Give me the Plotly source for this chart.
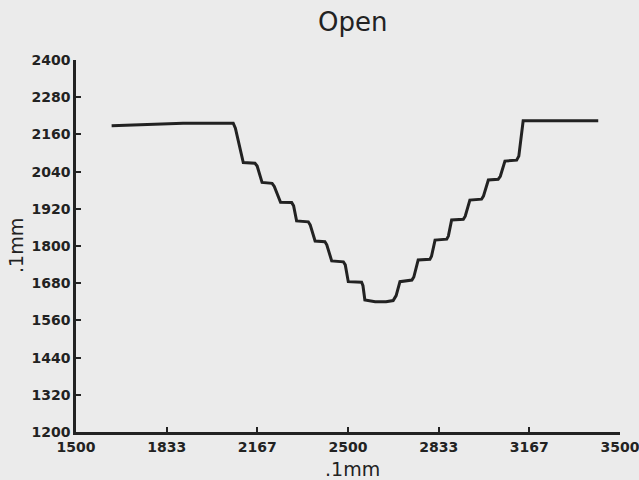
import plotly.graph_objects as go

# Profile data (.1mm units)
x_vals = [1631, 1894, 2078, 2086, 2115, 2158, 2166, 2184, 2221, 2229, 2252, 2293, 2300,
          2311, 2354, 2361, 2379, 2415, 2422, 2440, 2483, 2490, 2501, 2550, 2555, 2562,
          2600, 2640, 2666, 2677, 2691, 2735, 2742, 2758, 2801, 2807, 2820, 2863, 2869,
          2881, 2924, 2931, 2948, 2991, 2998, 3016, 3052, 3060, 3077, 3120, 3128, 3144,
          3420]
y_vals = [2188, 2196, 2196, 2180, 2069, 2067, 2058, 2005, 2002, 1992, 1941, 1940, 1930,
          1881, 1878, 1868, 1816, 1814, 1804, 1752, 1749, 1739, 1685, 1683, 1672, 1626,
          1620, 1620, 1624, 1640, 1685, 1690, 1700, 1755, 1757, 1767, 1819, 1822, 1832,
          1884, 1886, 1896, 1948, 1951, 1961, 2013, 2015, 2025, 2074, 2077, 2090, 2204,
          2204]

x_tickvals = [1500, 1833.33, 2166.67, 2500, 2833.33, 3166.67, 3500]
x_ticktext = ["1500", "1833", "2167", "2500", "2833", "3167", "3500"]
y_tickvals = [1200, 1320, 1440, 1560, 1680, 1800, 1920, 2040, 2160, 2280, 2400]
y_ticktext = [str(v) for v in y_tickvals]

title_text = "Open"
x_title = ".1mm"
y_title = ".1mm"

ink = "#222222"
paper = "#ebebeb"

fig = go.Figure()
fig.add_trace(go.Scatter(
    x=x_vals, y=y_vals, mode="lines",
    line=dict(color=ink, width=3, shape="linear"),
    showlegend=False, hoverinfo="skip",
))

tickfont = dict(family="DejaVu Sans", size=14, color=ink, weight="bold")

fig.update_layout(
    width=639, height=480,
    margin=dict(l=76, r=19, t=60, b=48, autoexpand=False),
    paper_bgcolor=paper, plot_bgcolor=paper,
    showlegend=False,
    xaxis=dict(
        range=[1500, 3500], tickvals=x_tickvals, ticktext=x_ticktext,
        showgrid=False, zeroline=False, showline=True, linecolor=ink, linewidth=2.5,
        ticks="inside", ticklen=5, tickwidth=2, tickcolor=ink,
        tickfont=tickfont, ticklabeloverflow="allow", automargin=False,
    ),
    yaxis=dict(
        range=[1200, 2400], tickvals=y_tickvals, ticktext=y_ticktext,
        showgrid=False, zeroline=False, showline=True, linecolor=ink, linewidth=2.5,
        ticks="inside", ticklen=5, tickwidth=2, tickcolor=ink,
        tickfont=tickfont, ticklabeloverflow="allow", automargin=False,
    ),
    annotations=[
        dict(text=title_text, xref="paper", yref="paper", x=0.509, y=1 + 38 / 372,
             xanchor="center", yanchor="middle", showarrow=False,
             font=dict(family="DejaVu Sans", size=26, color=ink)),
        dict(text=x_title, xref="paper", yref="paper", x=0.509, y=-37 / 372,
             xanchor="center", yanchor="middle", showarrow=False,
             font=dict(family="DejaVu Sans", size=19, color=ink)),
        dict(text=y_title, xref="paper", yref="paper", x=-60 / 544, y=0.5,
             xanchor="center", yanchor="middle", showarrow=False, textangle=-90,
             font=dict(family="DejaVu Sans", size=19, color=ink)),
    ],
)

fig.write_html("out.html")
